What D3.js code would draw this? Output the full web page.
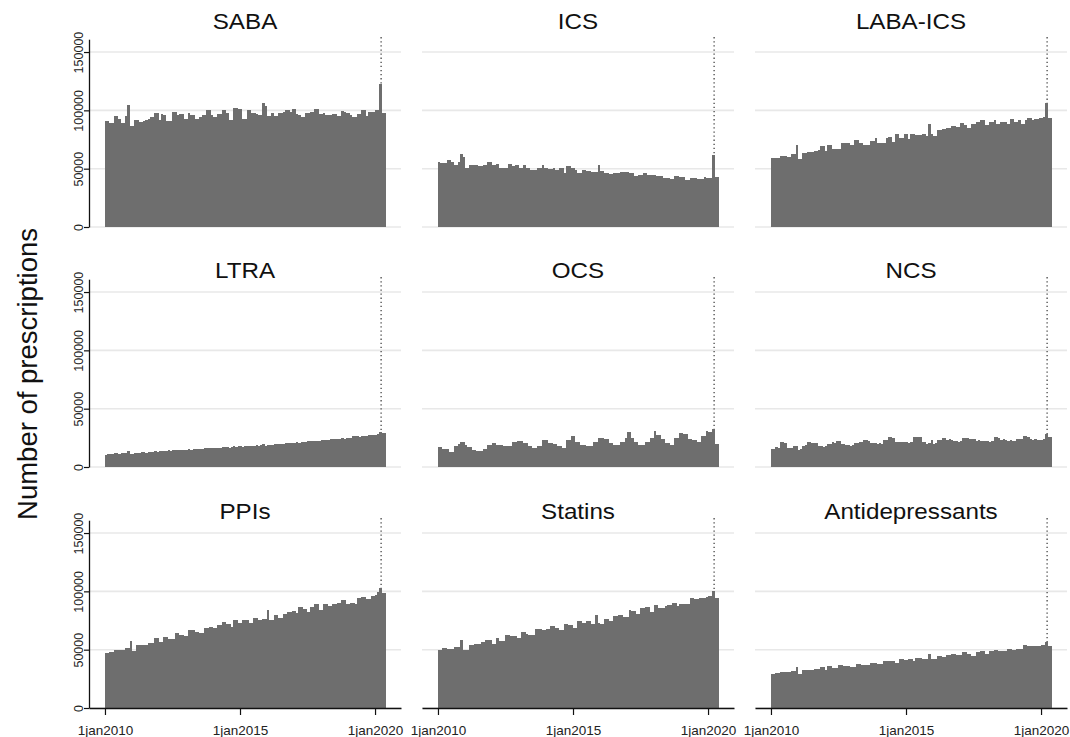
<!DOCTYPE html>
<html>
<head>
<meta charset="utf-8">
<script src="https://cdn.jsdelivr.net/npm/d3@7"></script>
<style>
  body { margin: 0; background: #fff; }
  svg { display: block; font-family: "Liberation Sans", Arial, Helvetica, sans-serif; }
</style>
</head>
<body>
<div id="chart"></div>
<script>
// Panel names, in reading order
const drugs = ["SABA", "ICS", "LABA-ICS", "LTRA", "OCS", "NCS", "PPIs", "Statins", "Antidepressants"];

// Monthly prescriptions, Jan 2010 - May 2020, in thousands
const saba = [
  91, 91, 89, 89, 95, 95, 93, 89, 89, 95,
  105, 87, 87, 92, 92, 90, 90, 91, 92, 93,
  94, 94, 98, 98, 92, 96.5, 96, 91, 91, 91,
  99, 99, 96, 96.5, 96.5, 93, 93, 98, 96, 96,
  93, 93, 94, 96, 96, 100, 100, 96, 94, 94,
  97, 97, 100.5, 100.5, 98, 92, 92, 102, 102, 101,
  101, 93, 93, 100, 100, 98, 98, 97, 96, 96,
  106.5, 104, 95, 95, 98, 95, 95, 98, 98, 99,
  100.5, 100, 98.5, 101, 101, 96.5, 96, 94, 94, 98,
  98, 99, 99, 101.5, 101, 97, 97, 98, 96, 96,
  96, 97, 97, 95, 95, 99.5, 99, 98, 98, 96,
  94, 94, 96.5, 96.5, 100, 100, 95, 99, 99, 99,
  100.5, 100, 123, 98, 98
];
const ics = [
  55.4, 55, 54.5, 54.5, 57.7, 57.5, 56, 53, 53, 56,
  62.5, 60, 50.5, 50.5, 53.4, 53.4, 53, 53, 52.5, 52.5,
  53.4, 53.4, 56, 56, 53.4, 53.4, 54, 50.5, 50.5, 50.5,
  50.5, 54, 54, 52.5, 53, 53, 51, 51, 52.8, 51,
  51, 49, 49, 49, 51, 51, 52.8, 50.5, 50.5, 49.7,
  49.7, 51, 49, 49, 50.5, 50.5, 46.3, 52, 52, 51,
  51, 49, 46.3, 46.3, 49, 49, 47.7, 47.7, 47, 47,
  47, 53, 47.7, 47.7, 46, 46, 45.5, 45.5, 46.3, 46.3,
  46.3, 47.4, 47.4, 47, 47, 46.3, 46.3, 43.5, 43.5, 44.6,
  44.6, 46, 46, 45, 45, 44.6, 44.6, 43.5, 43.5, 43.5,
  42, 42, 42, 41.2, 41.2, 43.8, 43.8, 42.6, 42.6, 42.6,
  40.6, 40.6, 41.8, 41.8, 41.8, 41.2, 41.2, 41.2, 42.6, 42,
  42, 42, 61.6, 43.2, 43.2
];
const labaIcs = [
  58.8, 58.8, 58.8, 58.8, 61, 61, 61, 59.7, 59.7, 63,
  63, 70.5, 58.2, 58.2, 63.4, 63.4, 64, 64, 64, 65.3,
  65.3, 66.2, 69.6, 69.6, 65.3, 70.2, 70.2, 66.8, 66.8, 66.8,
  66.8, 72.4, 72.4, 71.6, 71.6, 70.5, 70.5, 74.4, 74.4, 72.4,
  72.4, 70.2, 70.2, 70.2, 73.9, 73.9, 75.9, 72.4, 72.4, 71.9,
  71.9, 76.1, 77.3, 77.3, 73, 79.5, 79.5, 76.1, 76.1, 79.5,
  79.5, 75.3, 80.1, 80.1, 79, 79, 79, 79.5, 79.5, 78.1,
  88.6, 80, 78.1, 78.1, 83.2, 83.2, 83.8, 83.8, 85.2, 85.2,
  86.6, 86.6, 86.1, 86.1, 89.5, 89.5, 87.2, 85.2, 85.2, 88,
  88, 90, 90, 91.5, 91.5, 87.2, 87.2, 90.3, 90.3, 91.5,
  88.6, 88.6, 90.3, 90.3, 90.3, 88.6, 92.3, 92.3, 90, 90,
  91.5, 88, 88, 91.5, 93.8, 93.8, 91.8, 92.3, 92.3, 93.8,
  93.8, 94, 106.5, 93.8, 93.8
];
const ltra = [
  10.6, 10.8, 11.2, 11.4, 11.6, 11.8, 11.5, 11.9, 12.2, 12.0,
  13.3, 10.9, 11.4, 11.9, 12.3, 12.4, 12.5, 12.6, 12.4, 12.8,
  13.0, 13.2, 13.6, 13.2, 13.5, 13.3, 13.8, 14.0, 14.3, 14.1,
  14.6, 14.4, 14.5, 14.3, 14.8, 14.6, 15.0, 15.2, 14.9, 15.4,
  15.3, 15.5, 15.7, 15.4, 15.9, 16.0, 16.2, 15.9, 16.3, 16.1,
  16.4, 16.6, 17.3, 17.1, 16.8, 16.7, 17.3, 17.6, 17.4, 17.7,
  17.9, 17.5, 18.3, 18.1, 18.4, 18.2, 18.0, 18.6, 18.2, 18.5,
  20.0, 18.4, 18.9, 19.2, 19.0, 19.4, 19.6, 19.8, 20.1, 19.9,
  20.2, 20.4, 20.3, 20.6, 20.9, 21.2, 21.0, 21.4, 21.3, 21.7,
  21.9, 22.2, 21.9, 22.4, 22.6, 22.3, 22.8, 23.1, 23.5, 23.3,
  23.6, 23.9, 24.1, 23.8, 24.3, 24.6, 24.4, 24.9, 25.2, 24.8,
  26.8, 26.9, 26.4, 26.1, 26.5, 26.7, 27.0, 27.2, 27.4, 27.3,
  27.8, 28.2, 29.8, 28.9, 28.9
];
const ocs = [
  16.9, 16.9, 15.4, 15.4, 15.4, 12.9, 12.9, 17.7, 17.7, 19.5,
  21.4, 21.4, 19.1, 16.9, 16.9, 14.9, 14.9, 14, 14, 14,
  15.7, 15.7, 19.1, 19.1, 20.6, 20.6, 19.1, 19.1, 19.1, 17.7,
  17.7, 18.3, 18.3, 21.1, 21.1, 22.6, 22.6, 22.6, 20.6, 20.6,
  18.3, 18.3, 16.3, 16.3, 18.3, 18.3, 22.9, 22.9, 22.9, 20.6,
  20.6, 20, 20, 17.7, 17.7, 16.3, 16.3, 22.9, 22.9, 26.9,
  26.9, 21.4, 21.4, 19.1, 19.1, 19.1, 17.7, 17.7, 17.7, 21.1,
  21.1, 24.9, 24.9, 24.9, 24.3, 24.3, 20.6, 20.6, 19.1, 19.1,
  19.1, 21.4, 21.4, 24.9, 29.7, 29.7, 24.9, 21.1, 21.1, 19.1,
  19.1, 19.1, 21.1, 21.1, 24.9, 24.9, 31.1, 27.7, 27.7, 24,
  24, 20.6, 20.6, 19.1, 19.1, 24.9, 24.9, 29.1, 29.1, 28.3,
  28.3, 24, 24, 22.9, 22.9, 21.1, 21.1, 26.3, 26.3, 30.6,
  29.7, 29.7, 32.6, 20, 20
];
const ncs = [
  15.4, 15.6, 16.9, 16.7, 21.1, 21.3, 20.8, 16.3, 16.5, 16.1,
  18.3, 18.1, 14.9, 15.1, 18.3, 18.5, 21.4, 21.2, 21.0, 20.6,
  20.4, 18.3, 17.7, 17.5, 17.9, 19.7, 19.9, 21.1, 20.9, 22,
  22.2, 19.7, 19.5, 18.6, 18.8, 18.4, 18.6, 20.6, 20.8, 21.4,
  21.2, 22.9, 23.1, 22.7, 20.6, 20.4, 20.8, 20, 20.2, 19.8,
  23.4, 23.2, 25.4, 25.6, 25.2, 21.1, 21.3, 21.4, 21.2, 21.6,
  21.4, 21.0, 21.4, 25.7, 25.5, 25.9, 25.7, 21.4, 21.2, 20,
  20.2, 23.4, 20, 20.2, 22.9, 23.1, 24.9, 24.7, 23.4, 23.6,
  23.2, 22, 22.2, 21.8, 22, 24.9, 25.1, 24.7, 24, 24.2,
  23.8, 22.6, 22.8, 22.4, 22.6, 22, 22.2, 21.8, 22, 25.4,
  25.6, 25.2, 23.4, 23.6, 23.2, 22.6, 22.8, 22.4, 22.6, 24,
  24.2, 23.8, 26.3, 26.5, 26.1, 24, 23.4, 23.6, 23.2, 23.4,
  22.9, 24, 28.6, 25.4, 25.4
];
const ppis = [
  47.3, 47.3, 48.1, 48.1, 50.1, 50.1, 50.1, 50.1, 50.1, 51.6,
  51.6, 57.3, 48.7, 48.7, 53.9, 53.9, 53.9, 53.9, 54.4, 55.9,
  55.9, 55.9, 60.2, 60.2, 56.4, 56.4, 61, 61, 59.3, 59.3,
  59.3, 63.9, 63.9, 63, 63, 61.6, 61.6, 66.5, 66.5, 66.5,
  65.3, 65.3, 64.5, 64.5, 68.8, 68.8, 69.3, 69.3, 68.2, 68.2,
  71.1, 71.1, 73.6, 73.6, 71.6, 71.6, 69.3, 75.4, 75.4, 72.5,
  72.5, 75.4, 75.4, 75.4, 72.5, 72.5, 77.4, 77.4, 75.4, 75.4,
  76.5, 76.5, 84, 75.4, 75.4, 79.7, 79.7, 77.4, 77.4, 80.2,
  80.2, 82.2, 82.2, 83.1, 83.1, 81.1, 86.8, 86.8, 84.5, 84.5,
  82.2, 86.8, 86.8, 88.8, 88.8, 84, 84, 88.8, 88.8, 87.4,
  87.4, 88.8, 88.8, 89.7, 89.7, 92.3, 92.3, 88.8, 88.8, 90.3,
  90.3, 88.8, 94, 94, 95.4, 95.4, 93.1, 93.1, 96, 96,
  96.8, 99.4, 103.2, 98.3, 98.3
];
const statins = [
  49.3, 49.3, 51.6, 51.6, 51, 51, 51, 52, 52, 52,
  58.2, 49.3, 49.3, 49.3, 53.9, 53.9, 55, 55, 55, 56.4,
  56.4, 58.7, 58.7, 58.7, 55, 55, 59.6, 57.3, 57.3, 57.3,
  62.5, 62.5, 61.6, 61.6, 61.6, 60.2, 60.2, 65, 65, 63.6,
  63, 63, 63, 67.3, 67.3, 67.3, 66.5, 66.5, 67.9, 67.9,
  70.2, 70.2, 68.8, 68.8, 66.5, 66.5, 71.6, 71.6, 71.1, 71.1,
  68.8, 68.8, 74.5, 74.5, 73.1, 73.1, 74.5, 74.5, 71.6, 71.6,
  79.9, 72.5, 71.6, 71.6, 76.5, 76.5, 74.5, 74.5, 78.8, 78.8,
  79.7, 79.7, 78.2, 78.2, 78.2, 83.7, 83.1, 83.1, 80.2, 80.2,
  85.4, 85.4, 86.8, 86.8, 82.2, 82.2, 88, 88, 86, 86,
  86, 87.4, 88.3, 88.3, 89.7, 89.7, 87.4, 88.8, 88.8, 88.8,
  89.4, 89.4, 94, 94, 93.1, 93.1, 94.6, 94.6, 94.6, 95.1,
  96, 96, 100.3, 94.6, 94.6
];
const antidepressants = [
  29.1, 29.1, 30, 30, 30.9, 30.9, 30.9, 30.6, 30.6, 31.4,
  31.4, 34.9, 29.4, 29.4, 32.3, 32.3, 32.9, 32.9, 32.9, 33.7,
  33.7, 33.7, 34.9, 34.9, 32.9, 35.7, 35.7, 34.3, 34.3, 34.3,
  36.6, 36.6, 35.7, 35.7, 35.7, 34.9, 34.9, 34.9, 38, 38,
  37.1, 37.1, 36.6, 36.6, 38.6, 38.6, 38.6, 38, 38, 38,
  40, 40, 40.6, 40.6, 40.6, 38.6, 38.6, 42, 42, 40.9,
  40.9, 42, 42, 40.6, 42.9, 42.9, 42.9, 42.3, 42.3, 42,
  46.6, 42.3, 42.3, 42.3, 44.3, 44.3, 43.4, 43.4, 45.1, 45.1,
  46.3, 46.3, 45.7, 45.7, 45.7, 47.7, 47.7, 46.6, 46.6, 44.9,
  44.9, 48, 48, 48.6, 48.6, 46.3, 46.3, 49.1, 49.1, 50,
  50, 49.1, 49.1, 48.6, 48.6, 50.9, 50.9, 50, 50, 50.9,
  50.9, 50.9, 53.7, 53.7, 52.9, 52.9, 53.4, 53.4, 52.9, 52.9,
  53.7, 53.7, 56.3, 52.9, 52.9
];

const series = [saba, ics, labaIcs, ltra, ocs, ncs, ppis, statins, antidepressants];

// Axis ticks
const yTicks = [0, 50000, 100000, 150000];
const xTicks = [new Date(Date.UTC(2010, 0, 1)), new Date(Date.UTC(2015, 0, 1)), new Date(Date.UTC(2020, 0, 1))];
const lockdown = new Date(Date.UTC(2020, 2, 23));

const width = 1070;
const height = 737;
const colLeft = [89, 422, 755];
const rowBase = [226.7, 467.3, 708.3];
const titleBase = [28.5, 278, 518.5];
const panelW = 312;
const panelH = 187.8;

const months = d3.utcMonths(new Date(Date.UTC(2010, 0, 1)), new Date(Date.UTC(2020, 5, 1)));

const x = d3.scaleUtc()
    .domain([new Date(Date.UTC(2009, 4, 30)), new Date(Date.UTC(2020, 11, 17))])
    .range([0, panelW]);

const y = d3.scaleLinear()
    .domain([0, 161000])
    .range([0, -panelH]);

const fmt = d3.utcFormat("%-d%b%Y");

const svg = d3.select("#chart")
    .append("svg")
    .attr("width", width)
    .attr("height", height)
    .attr("viewBox", [0, 0, width, height]);

// Y axis title
svg.append("text")
    .attr("transform", "translate(37,374) rotate(-90)")
    .attr("text-anchor", "middle")
    .style("font-size", "27.5px")
    .attr("fill", "#111")
    .text("Number of prescriptions");

drugs.forEach((name, k) => {
    const row = Math.floor(k / 3);
    const col = k % 3;
    const g = svg.append("g")
        .attr("transform", `translate(${colLeft[col]},${Math.round(rowBase[row])})`);

    // gridlines
    g.selectAll(".grid")
        .data(yTicks)
        .enter().append("line")
        .attr("class", "grid")
        .attr("x1", 0)
        .attr("x2", panelW)
        .attr("y1", d => y(d))
        .attr("y2", d => y(d))
        .attr("stroke", "#e8e8e8")
        .attr("stroke-width", 1.6);

    // dotted line at lockdown
    g.append("line")
        .attr("x1", x(lockdown))
        .attr("x2", x(lockdown))
        .attr("y1", y(0))
        .attr("y2", y(163500))
        .attr("stroke", "#444")
        .attr("stroke-width", 1.3)
        .attr("stroke-dasharray", "1.3,2.8");

    // bars: edges snapped to whole pixels so neighbours touch
    const data = months.map((m, i) => ({date: m, value: series[k][i] * 1000}));
    g.selectAll(".bar")
        .data(data)
        .enter().append("rect")
        .attr("class", "bar")
        .attr("x", d => Math.round(x(d.date)))
        .attr("width", d => Math.round(x(d3.utcMonth.offset(d.date, 1))) - Math.round(x(d.date)))
        .attr("y", d => Math.round(y(d.value)))
        .attr("height", d => -Math.round(y(d.value)))
        .attr("fill", "#6e6e6e")
        .attr("shape-rendering", "crispEdges");

    // panel title
    svg.append("text")
        .attr("transform", `translate(${colLeft[col] + panelW / 2},${titleBase[row]}) scale(1.1,1)`)
        .attr("text-anchor", "middle")
        .style("font-size", "22px")
        .attr("fill", "#111")
        .text(name);

    // y axis on the first column
    if (col === 0) {
        const ya = g.append("g")
            .call(d3.axisLeft(y).tickValues(yTicks).tickSize(5).tickSizeOuter(0)
                .tickFormat(d3.format("d")));
        ya.select(".domain").attr("stroke", "#111").attr("stroke-width", 1.3);
        ya.selectAll(".tick line").attr("stroke", "#111").attr("stroke-width", 1.2);
        ya.selectAll(".tick text")
            .attr("transform", "rotate(-90)")
            .attr("x", 0)
            .attr("y", -6.5)
            .attr("dy", 0)
            .style("text-anchor", "middle")
            .style("font-size", "12.5px")
            .style("font-family", "Liberation Sans, Arial, sans-serif")
            .attr("fill", "#222");
    }

    // x axis on the bottom row
    if (row === 2) {
        const xa = g.append("g")
            .call(d3.axisBottom(x).tickValues(xTicks).tickSize(7).tickSizeOuter(0)
                .tickFormat(d => fmt(d).toLowerCase()));
        xa.select(".domain").attr("stroke", "#111").attr("stroke-width", 1.3);
        xa.selectAll(".tick line").attr("stroke", "#111").attr("stroke-width", 1.2);
        xa.selectAll(".tick text")
            .attr("y", 26.5)
            .attr("dy", 0)
            .style("font-size", "13.5px")
            .style("font-family", "Liberation Sans, Arial, sans-serif")
            .attr("fill", "#222");
    }
});
</script>
</body>
</html>
